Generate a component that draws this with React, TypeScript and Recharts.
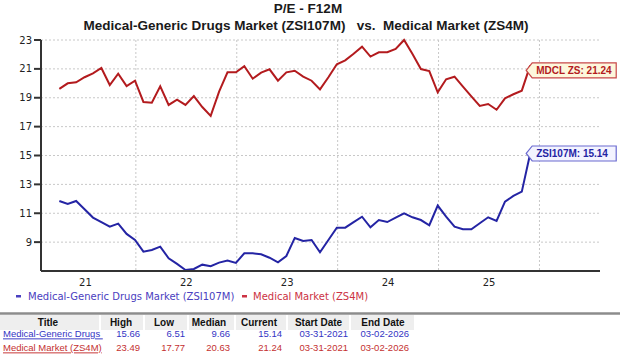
import React from "react";
import { CartesianGrid, Line, LineChart, XAxis, YAxis } from "recharts";

// monthly P/E F12M readings, 03-2021 .. 03-2026
const zsi107m = [
  11.85, 11.64, 11.85, 11.28, 10.7, 10.38, 10.07, 10.28, 9.57, 9.15,
  8.34, 8.46, 8.69, 7.88, 7.49, 7.07, 7.14, 7.44, 7.33, 7.58,
  7.72, 7.56, 8.23, 8.23, 8.16, 7.92, 7.6, 8.04, 9.29, 9.08,
  9.15, 8.3, 9.15, 10.0, 10.0, 10.38, 10.76, 10.03, 10.53, 10.39,
  10.69, 11.0, 10.72, 10.53, 10.17, 11.53, 10.76, 10.07, 9.89, 9.89,
  10.31, 10.72, 10.47, 11.8, 12.2, 12.5, 15.14,
];
const zs4m = [
  19.61, 20.0, 20.07, 20.42, 20.69, 21.06, 19.88, 20.67, 19.81, 20.18,
  18.71, 18.66, 19.79, 18.5, 18.87, 18.5, 19.12, 18.36, 17.74, 19.42,
  20.76, 20.76, 21.18, 20.32, 20.74, 20.97, 20.18, 20.76, 20.87, 20.46,
  20.18, 19.58, 20.42, 21.32, 21.59, 22.05, 22.54, 21.85, 22.15, 22.15,
  22.38, 23.0, 22.03, 20.99, 20.85, 19.38, 20.28, 20.46, 19.77, 19.1,
  18.43, 18.57, 18.17, 18.96, 19.24, 19.49, 21.24,
];

const yTicks = [9, 11, 13, 15, 17, 19, 21, 23];
const yearLabels = ["21", "22", "23", "24", "25"];
const labelMonths = [3.1, 15.1, 27.1, 39.1, 51.1];
const gridMonths = [9.1, 21.1, 33.1, 45.1, 57.1];

const tableHeader = ["Title", "High", "Low", "Median", "Current", "Start Date", "End Date"];
const rowDrugs = ["Medical-Generic Drugs ", "15.66", "6.51", "9.66", "15.14", "03-31-2021", "03-02-2026"];
const rowMedical = ["Medical Market (ZS4M)", "23.49", "17.77", "20.63", "21.24", "03-31-2021", "03-02-2026"];

const data = zsi107m.map((v, i) => ({ m: i, zsi: v, zs4m: zs4m[i] }));
const lastIdx = data.length - 1;

const RED = "#b31b1e";
const BLUE = "#2424a4";

const EndTag = (props: any) => {
  const { x, y, index, value, name, stroke, fill, textColor, dy } = props;
  if (index !== lastIdx) return <g />;
  const tip = x - 4;
  const cy = y + dy;
  const w = 90;
  const h = 7.5;
  const d = `M${tip},${cy} L${tip + 6},${cy - h} L${tip + w},${cy - h} L${tip + w},${cy + h} L${tip + 6},${cy + h} Z`;
  return (
    <g>
      <path d={d} fill={fill} stroke={stroke} strokeWidth={1.2} />
      <text x={tip + 10} y={cy + 3.6} fontSize={10} fontWeight="bold" fontFamily="Liberation Sans" fill={textColor}>
        {`${name}: ${Number(value).toFixed(2)}`}
      </text>
    </g>
  );
};

const hdrCols = [
  { x0: 0, x1: 99, cx: 48 },
  { x0: 101, x1: 143, cx: 121 },
  { x0: 145, x1: 187, cx: 164 },
  { x0: 189, x1: 234, cx: 209 },
  { x0: 236, x1: 286, cx: 259 },
  { x0: 288, x1: 349, cx: 318.5 },
  { x0: 351, x1: 414, cx: 383 },
];
const valueRight = [0, 140, 185, 230, 282, 348, 409];

const TableRow = ({ cells, y, color }: { cells: string[]; y: number; color: string }) => (
  <g fontFamily="Liberation Sans" fontSize={9.5} fill={color}>
    <text x={3} y={y} textDecoration="underline" style={{ whiteSpace: "pre" }}>{cells[0]}</text>
    {cells.slice(1).map((c, i) => (
      <text key={i} x={valueRight[i + 1]} y={y} textAnchor="end">{c}</text>
    ))}
  </g>
);

export default function App() {
  return (
    <div style={{ position: "absolute", left: 0, top: 0, width: 620, height: 355, background: "#fff", overflow: "hidden" }}>
      <LineChart width={620} height={300} data={data} margin={{ top: 40, right: 20, bottom: 0, left: 0 }}>
        <CartesianGrid stroke="#c8c8c8" strokeDasharray="2 2" verticalValues={gridMonths} />
        <XAxis
          dataKey="m"
          type="number"
          domain={[-2.18, 64.3]}
          ticks={labelMonths}
          tickFormatter={(_v: number, i: number) => yearLabels[i]}
          tickLine={false}
          height={29}
          stroke="#333"
          strokeWidth={2}
          tick={{ fontSize: 10, fill: "#222", fontFamily: "DejaVu Sans" }}
        />
        <YAxis
          domain={[7, 23]}
          ticks={yTicks}
          width={41}
          tickSize={7}
          stroke="#333"
          strokeWidth={2}
          tick={{ fontSize: 10, fill: "#222", fontFamily: "DejaVu Sans" }}
        />
        <Line
          dataKey="zs4m"
          stroke={RED}
          strokeWidth={2}
          dot={false}
          isAnimationActive={false}
          label={(p: any) => (
            <EndTag {...p} name="MDCL ZS" stroke="#c84848" fill="#fdf7dc" textColor={RED} dy={5} />
          )}
        />
        <Line
          dataKey="zsi"
          stroke={BLUE}
          strokeWidth={2}
          dot={false}
          isAnimationActive={false}
          label={(p: any) => (
            <EndTag {...p} name="ZSI107M" stroke="#6a6ad0" fill="#f3f3ff" textColor={BLUE} dy={0} />
          )}
        />
      </LineChart>

      <svg width={620} height={355} style={{ position: "absolute", left: 0, top: 0, pointerEvents: "none" }}>
        <g fontFamily="Liberation Sans" fontWeight="bold" fontSize={13.5} fill="#1a1a1a" textAnchor="middle">
          <text x={308} y={13}>P/E - F12M</text>
          <text x={306} y={30} style={{ whiteSpace: "pre" }}>
            {"Medical-Generic Drugs Market (ZSI107M)   vs.  Medical Market (ZS4M)"}
          </text>
        </g>

        <g fontFamily="DejaVu Sans" fontSize={10}>
          <rect x={16} y={295} width={5} height={2.5} fill="#4a40c0" />
          <text x={28} y={299.6} fill="#4a40c0">Medical-Generic Drugs Market (ZSI107M)</text>
          <rect x={242} y={295} width={5} height={2.5} fill="#cc3344" />
          <text x={253} y={299.6} fill="#cc3344">Medical Market (ZS4M)</text>
        </g>

        <line x1={0} x2={620} y1={313.5} y2={313.5} stroke="#8c8c8c" strokeWidth={2.5} />
        {hdrCols.map((c, i) => (
          <rect key={i} x={c.x0} y={315} width={c.x1 - c.x0} height={15} fill="#eeeeee" />
        ))}
        <g fontFamily="Liberation Sans" fontWeight="bold" fontSize={10} fill="#111" textAnchor="middle">
          {tableHeader.map((h, i) => (
            <text key={h} x={hdrCols[i].cx} y={325.8}>{h}</text>
          ))}
        </g>
        <TableRow cells={rowDrugs} y={337.4} color="#3434c4" />
        <TableRow cells={rowMedical} y={351.4} color="#c43030" />
      </svg>
    </div>
  );
}
